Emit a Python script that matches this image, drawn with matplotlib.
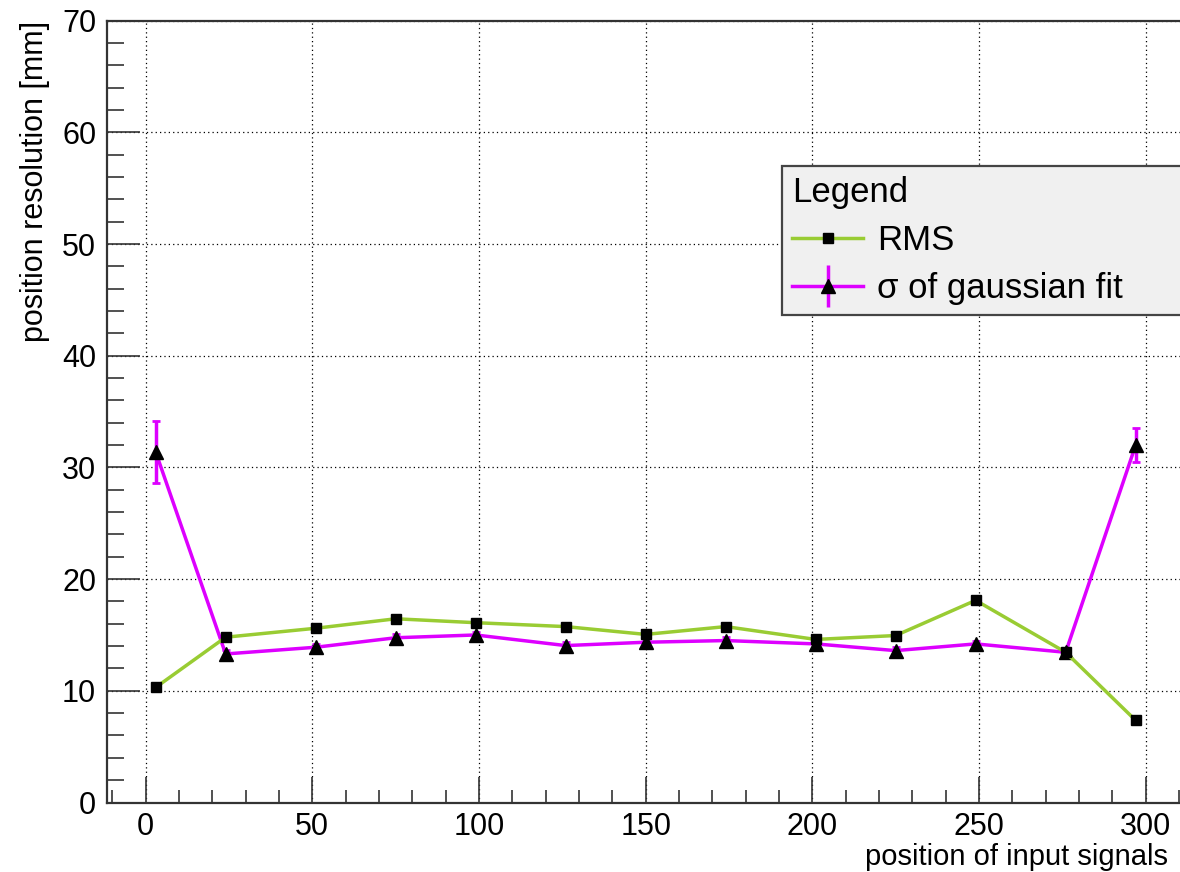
import numpy as np
import matplotlib
matplotlib.use("Agg")
import matplotlib.pyplot as plt
from matplotlib.lines import Line2D
from matplotlib.ticker import MultipleLocator

plt.rcParams['font.family'] = ['Liberation Sans', 'DejaVu Sans']

# input positions and resolution values [mm]
position = [3, 24, 51, 75, 99, 126, 150, 174, 201, 225, 249, 276, 297]
rms = [10.3, 14.8, 15.6, 16.45, 16.1, 15.75, 15.05, 15.75, 14.6, 14.95, 18.1, 13.45, 7.35]
sigma = [31.4, 13.3, 13.9, 14.75, 15.0, 14.05, 14.35, 14.5, 14.2, 13.6, 14.2, 13.45, 32.0]
sigma_err = [2.75, 0.35, 0.3, 0.3, 0.3, 0.3, 0.3, 0.3, 0.3, 0.3, 0.3, 0.3, 1.55]

green = '#99cc33'
magenta = '#dd00ff'

fig = plt.figure(figsize=(11.8, 8.72), dpi=100)
ax = fig.add_axes([107.3 / 1180, 1 - 802.5 / 872, 1 - 107.3 / 1180, (802.5 - 20.7) / 872])

ax.errorbar(position, sigma, yerr=sigma_err, color=magenta, lw=2.5,
            marker='^', ms=10, mfc='black', mec='black', ecolor=magenta,
            elinewidth=2.5, capsize=3, capthick=2, zorder=3)
ax.plot(position, rms, color=green, lw=2.5, marker='s', ms=7.5,
        mfc='black', mec='black', zorder=4)

ax.set_xlim(-11.5, 310.3)
ax.set_ylim(0, 70)
ax.xaxis.set_major_locator(MultipleLocator(50))
ax.xaxis.set_minor_locator(MultipleLocator(10))
ax.yaxis.set_major_locator(MultipleLocator(10))
ax.yaxis.set_minor_locator(MultipleLocator(2))

ax.tick_params(which='both', direction='in', colors='#333333', labelcolor='black',
               labelsize=22, width=1.2, top=False, right=False)
ax.tick_params(axis='x', which='major', length=19, pad=7)
ax.tick_params(axis='x', which='minor', length=9.5)
ax.tick_params(axis='y', which='major', length=24, pad=8)
ax.tick_params(axis='y', which='minor', length=12.5)

for side in ['left', 'bottom', 'top']:
    ax.spines[side].set_color('#333333')
    ax.spines[side].set_linewidth(1.6)
ax.spines['right'].set_visible(False)

ax.grid(True, which='major', color='black', linestyle=(0, (1, 2.5)), lw=0.9)
ax.set_axisbelow(True)

ax.set_xlabel('position of input signals', fontsize=21)
ax.xaxis.set_label_coords((1168 - 107.3) / (1180 - 107.3), -0.052)
ax.xaxis.label.set_horizontalalignment('right')
ax.set_ylabel('position resolution [mm]', fontsize=22, loc='top', labelpad=9)

# legend entries: line + marker, sigma with a vertical error bar stroke
rms_handle = Line2D([], [], color=green, lw=2.5, marker='s', ms=7.5,
                    mfc='black', mec='black')
sig_line = Line2D([], [], color=magenta, lw=2.5)
sig_bar = Line2D([], [], color=magenta, lw=0, marker='|', ms=30, mew=2.5)
sig_mark = Line2D([], [], lw=0, marker='^', ms=10, mfc='black', mec='black')

leg = ax.legend([rms_handle, (sig_line, sig_bar, sig_mark)],
                ['RMS', 'σ of gaussian fit'], title='Legend', fontsize=25, title_fontsize=25,
                loc='upper left', bbox_to_anchor=(781.7 / 1180, 1 - 167 / 872, 0.4, 0.001),
                bbox_transform=fig.transFigure, mode='expand', alignment='left',
                fancybox=False, framealpha=1, facecolor='#f0f0f0', edgecolor='#444444',
                handlelength=2.05, handletextpad=0.4, labelspacing=0.42,
                borderpad=0.3, borderaxespad=0)
leg.get_frame().set_linewidth(1.6)
leg.get_title().set_position((0, 1))

fig.savefig('out.png', dpi=100)
